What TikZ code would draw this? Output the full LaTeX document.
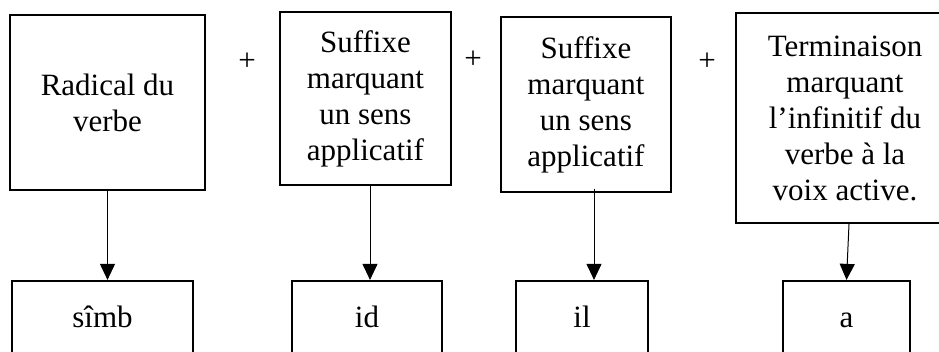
\documentclass[tikz,border=0pt]{standalone}
\usepackage{fontspec}
\setmainfont{Liberation Serif}
\usetikzlibrary{arrows.meta}

\begin{document}
\begin{tikzpicture}[x=1pt,y=-1pt]
\useasboundingbox (0,0) rectangle (939,351);
\clip (0,0) rectangle (939,351);
\begin{scope}[every node/.style={rectangle,draw,line width=2.2pt,inner sep=0pt,align=center,
              font=\fontsize{31}{36}\selectfont},
              morph_box/.style={minimum height=72pt,text height=21pt,text depth=0pt}]
    \node[minimum width=195pt,minimum height=175pt] (radical) at (107.5,102.5) {Radical du\\verbe};
    \node[minimum width=171pt,minimum height=173pt] (suffA) at (365.5,98.5) {Suffixe\\marquant\\un sens\\applicatif};
    \node[minimum width=170pt,minimum height=175pt] (suffB) at (586.0,104.5) {Suffixe\\marquant\\un sens\\applicatif};
    \node[minimum width=218pt,minimum height=210pt] (termin) at (845.0,118.0) {Terminaison\\marquant\\l’infinitif du\\verbe à la\\voix active.};
    \node[morph_box,minimum width=181pt] (simb) at (102.5,317) {sîmb};
    \node[morph_box,minimum width=150pt] (id) at (367.0,317) {id};
    \node[morph_box,minimum width=132pt] (il) at (582.0,317) {il};
    \node[morph_box,minimum width=127pt] (a) at (846.5,317) {a};
\end{scope}
\begin{scope}[every node/.style={font=\fontsize{31}{36}\selectfont}]
    \node (plus1) at (247,62) {+};
    \node (plus2) at (473,60) {+};
    \node (plus3) at (707,62) {+};
\end{scope}
\begin{scope}[>={Triangle[length=16pt,width=15pt]},
              down_edge/.style={draw=black,line width=1pt}]
    \path [->] (radical.south) edge [down_edge] (radical.south |- simb.north);
    \path [->] ([xshift=4.5pt]suffA.south) edge [down_edge] ([xshift=4.5pt]suffA.south |- id.north);
    \path [->] ([xshift=8pt,yshift=4pt]suffB.south) edge [down_edge] ([xshift=8pt]suffB.south |- il.north);
    \path [->] ([xshift=4pt]termin.south) edge [down_edge] (a.north);
\end{scope}
\end{tikzpicture}
\end{document}
